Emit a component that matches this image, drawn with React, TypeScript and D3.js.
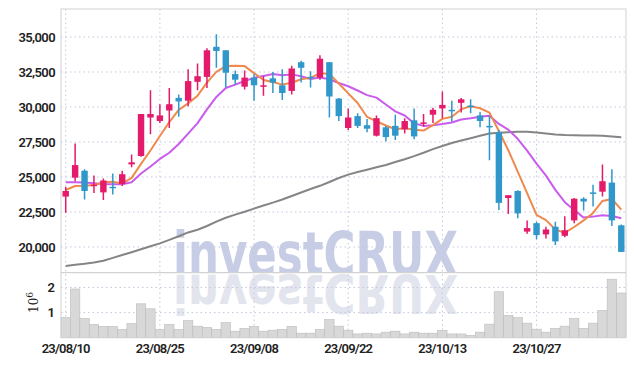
import React from "react";
import * as d3 from "d3";

const dates = [
  "23/08/10","23/08/11","23/08/14","23/08/16","23/08/17","23/08/18","23/08/21","23/08/22","23/08/23","23/08/24",
  "23/08/25","23/08/28","23/08/29","23/08/30","23/08/31","23/09/01","23/09/04","23/09/05","23/09/06","23/09/07",
  "23/09/08","23/09/11","23/09/12","23/09/13","23/09/14","23/09/15","23/09/18","23/09/19","23/09/20","23/09/21",
  "23/09/22","23/09/25","23/09/26","23/09/27","23/10/04","23/10/05","23/10/06","23/10/10","23/10/11","23/10/12",
  "23/10/13","23/10/16","23/10/17","23/10/18","23/10/19","23/10/20","23/10/23","23/10/24","23/10/25","23/10/26",
  "23/10/27","23/10/30","23/10/31","23/11/01","23/11/02","23/11/03","23/11/06","23/11/07","23/11/08","23/11/09",
];

const opens = [
  23600,24950,25450,24350,23900,24300,24500,25900,26500,29250,
  29000,29750,30650,30450,31800,32150,34300,34050,32350,31450,
  32100,31450,32050,31550,31150,33200,32150,32100,33200,30600,
  28500,29350,28700,27950,28550,28650,28400,29050,28850,29450,
  29900,29800,30300,30100,29400,28650,28200,23500,24000,21100,
  21700,20900,21450,20800,21900,23450,23900,23950,24600,21550,
];
const highs = [
  24300,27400,25550,25100,24900,25250,25450,26600,29500,31200,
  30200,31350,30900,32700,33100,34200,35200,34050,32600,32600,
  32350,32200,32500,32700,32950,33300,32550,33700,33200,30650,
  29900,29550,29150,29400,28650,29450,29200,29900,29500,29950,
  31100,30450,30650,30550,29650,29350,28350,23700,24050,21900,
  21800,21450,21800,22200,23500,23550,24450,25900,25550,21600,
];
const lows = [
  22450,24700,23400,23850,23350,23750,24350,25700,26450,28050,
  28850,28500,29300,30050,31200,31350,32800,31400,31600,31250,
  30450,30800,31000,30500,30900,31750,31400,31950,29250,29000,
  28350,28500,28200,27900,27550,27650,28100,27700,28600,28850,
  29200,28950,29600,29550,28550,26200,22650,22350,22050,20950,
  20550,20600,20150,20700,21700,22600,22900,23600,21500,19650,
];
const closes = [
  24000,25850,24000,24450,24750,24200,25200,26050,29500,29500,
  29400,30200,30400,31850,32200,34050,34000,32450,31950,32100,
  31550,31550,31750,31000,32750,32800,32050,33450,30750,29350,
  29250,28650,28450,29200,27850,27950,29000,27900,28900,29800,
  30150,29750,30550,30050,29000,28600,23150,23700,22400,21350,
  20850,21250,20400,21200,23450,23250,23850,24700,21900,19650,
];

const ma5 = [
  24070,24360,24380,24420,24620,24660,24530,24940,25940,26890,
  27930,28920,29790,30260,30810,31740,32510,32920,32940,32920,
  32420,31930,31790,31600,31730,31980,32080,32420,32360,31680,
  30970,30290,29290,28980,28680,28410,28490,28380,28320,28700,
  29150,29300,29840,30060,29910,29600,28280,26910,25390,23850,
  22300,21920,21250,21010,21430,21900,22430,23290,23430,22670,
];
const ma10 = [
  24620,24620,24600,24560,24500,24480,24480,24620,25250,25750,
  26290,26730,27360,28100,28850,29830,30720,31360,31600,31860,
  32080,32220,32350,32270,32330,32200,32000,32100,31980,31710,
  31480,31180,30850,30670,30180,29690,29390,28830,28650,28690,
  28780,28890,29110,29190,29310,29380,28790,28380,27730,26880,
  25950,25100,24080,23200,22640,22100,22170,22270,22220,22050,
];
const maLong = [
  18650,18740,18810,18900,19020,19220,19430,19630,19840,20050,
  20260,20510,20770,21040,21230,21500,21810,22090,22310,22520,
  22740,22960,23170,23390,23640,23890,24140,24370,24640,24930,
  25170,25360,25520,25690,25860,26070,26270,26490,26730,26990,
  27210,27430,27610,27770,27940,28110,28160,28200,28230,28240,
  28170,28100,28040,28000,27990,27970,27960,27940,27890,27840,
];
const volumes = [
  800000,1940000,760000,530000,450000,450000,330000,560000,1350000,1150000,
  330000,530000,330000,680000,460000,410000,330000,600000,260000,370000,
  450000,260000,300000,330000,450000,180000,180000,330000,720000,460000,
  300000,150000,180000,150000,220000,260000,150000,220000,180000,180000,
  290000,150000,150000,90000,220000,540000,1830000,890000,800000,580000,
  340000,220000,370000,460000,760000,370000,580000,1090000,2330000,1780000,
];

const priceTicks = [20000, 22500, 25000, 27500, 30000, 32500, 35000];
const volumeTicks = [1, 2];
const dateTickIdx = [0, 10, 20, 30, 40, 50];

const W = 634, H = 366;
const left = 61, right = 626, top = 9, sep = 272.7, bottom = 337.7;
const UP = "#e31b6a", DOWN = "#2f97c9";
const GRID = "#c3c8dc";
const FONT = "Roboto, 'Liberation Sans', sans-serif";

export default function App() {
  const idx = dates.map((_, i) => i);
  const x = d3.scaleBand<number>().domain(idx).range([left, right]).padding(0);
  const cx = (i: number) => (x(i) as number) + x.bandwidth() / 2;
  const y = d3.scaleLinear().domain([18164, 37000]).range([sep, top]);
  const yv = d3.scaleLinear().domain([0, 2588000]).range([bottom, sep]);
  const bodyW = x.bandwidth() * 0.68;

  const line = (arr: number[]) =>
    d3.line<number>().x((_, i) => cx(i)).y((v) => y(v)).curve(d3.curveLinear)(arr) || "";

  return (
    <svg width={W} height={H} style={{ position: "absolute", left: 0, top: 0, background: "#fff" }}>
      <defs>
        <clipPath id="mainClip"><rect x={left} y={top} width={right - left} height={sep - top} /></clipPath>
        <clipPath id="volClip"><rect x={left} y={sep} width={right - left} height={bottom - sep} /></clipPath>
      </defs>
      {/* watermark */}
      <g clipPath="url(#volClip)">
        <text x={173} y={0} transform="translate(0,275) scale(1,-0.88)" fontFamily="'DejaVu Sans', sans-serif" fontWeight="bold" fontSize={60} textLength={285} lengthAdjust="spacingAndGlyphs" fill="#e2e4ee">investCRUX</text>
      </g>
      <g clipPath="url(#mainClip)">
        <text x={173} y={275} fontFamily="'DejaVu Sans', sans-serif" fontWeight="bold" fontSize={60} textLength={285} lengthAdjust="spacingAndGlyphs" fill="#c8cde6">investCRUX</text>
      </g>
      {/* grid */}
      {priceTicks.map((t) => (
        <line key={"pg" + t} x1={left} x2={right} y1={y(t)} y2={y(t)} stroke={GRID} strokeDasharray="1.5,3" />
      ))}
      {volumeTicks.map((t) => (
        <line key={"vg" + t} x1={left} x2={right} y1={yv(t * 1e6)} y2={yv(t * 1e6)} stroke={GRID} strokeDasharray="1.5,3" />
      ))}
      {dateTickIdx.map((i) => (
        <line key={"xg" + i} x1={cx(i)} x2={cx(i)} y1={top} y2={bottom} stroke={GRID} strokeDasharray="1.5,3" />
      ))}
      {/* volume bars */}
      {volumes.map((v, i) => (
        <rect key={"v" + i} x={x(i)} y={yv(v)} width={x.bandwidth()} height={bottom - yv(v)} fill="#d8d8d8" stroke="#bcbcbc" strokeWidth={0.6} />
      ))}
      {/* MA lines */}
      <g clipPath="url(#mainClip)" fill="none" strokeLinejoin="round">
        <path d={line(maLong)} stroke="#858585" strokeWidth={2} />
        <path d={line(ma10)} stroke="#c95cec" strokeWidth={2} />
        <path d={line(ma5)} stroke="#ef8a4e" strokeWidth={2} />
      </g>
      {/* candles */}
      <g clipPath="url(#mainClip)">
        {idx.map((i) => {
          const up = closes[i] >= opens[i];
          const c = up ? UP : DOWN;
          const yTop = y(Math.max(opens[i], closes[i]));
          const yBot = y(Math.min(opens[i], closes[i]));
          const h = Math.max(1.5, yBot - yTop);
          return (
            <g key={"c" + i}>
              <line x1={cx(i)} x2={cx(i)} y1={y(highs[i])} y2={y(lows[i])} stroke={c} strokeWidth={1.5} />
              <rect x={cx(i) - bodyW / 2} y={yTop} width={bodyW} height={h} fill={c} />
            </g>
          );
        })}
      </g>
      {/* frame */}
      <rect x={left} y={top} width={right - left} height={bottom - top} fill="none" stroke="#d2d2d2" strokeWidth={1} />
      <line x1={left} x2={right} y1={sep} y2={sep} stroke="#d2d2d2" strokeWidth={1.2} />
      {/* axis labels */}
      {priceTicks.map((t) => (
        <text key={"pt" + t} x={55} y={y(t)} dy="0.35em" textAnchor="end" fontFamily={FONT} fontWeight={600} fontSize={13} letterSpacing={-0.6} fill="#222">
          {d3.format(",")(t)}
        </text>
      ))}
      {volumeTicks.map((t) => (
        <text key={"vt" + t} x={55} y={yv(t * 1e6)} dy="0.35em" textAnchor="end" fontFamily={FONT} fontWeight={600} fontSize={13} fill="#222">
          {t}
        </text>
      ))}
      <text transform="translate(38,313) rotate(-90)" fontFamily="'DejaVu Serif', serif" fontSize={12} fill="#222">
        10<tspan dy={-5} fontSize={9}>6</tspan>
      </text>
      {dateTickIdx.map((i) => (
        <text key={"dt" + i} x={cx(i)} y={353} textAnchor="middle" fontFamily={FONT} fontWeight={600} fontSize={13} letterSpacing={-0.8} fill="#222">
          {dates[i]}
        </text>
      ))}
    </svg>
  );
}
